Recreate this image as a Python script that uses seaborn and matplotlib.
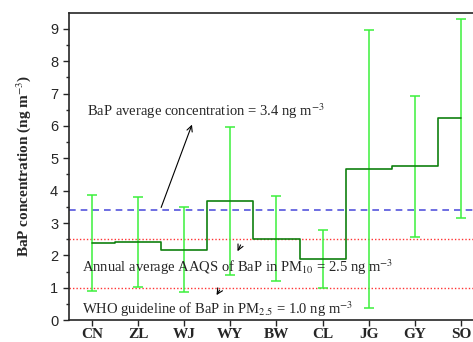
import numpy as np
import pandas as pd
import matplotlib
matplotlib.use("Agg")
import matplotlib.pyplot as plt
import seaborn as sns

sites = ["CN", "ZL", "WJ", "WY", "BW", "CL", "JG", "GY", "SO"]
bap_mean = [2.38, 2.40, 2.18, 3.68, 2.52, 1.88, 4.66, 4.75, 6.24]
bap_max = [3.86, 3.81, 3.48, 5.97, 3.83, 2.77, 8.95, 6.91, 9.31]
bap_min = [0.90, 1.01, 0.86, 1.39, 1.21, 0.99, 0.36, 2.58, 3.14]
avg_all = 3.4
aaqs_pm10 = 2.5
who_pm25 = 1.0

df = pd.DataFrame({"site": sites, "pos": np.arange(len(sites)),
                   "mean": bap_mean, "hi": bap_max, "lo": bap_min})

sns.set_style("ticks")
plt.rcParams["font.family"] = ["Liberation Serif", "DejaVu Serif"]
plt.rcParams["mathtext.fontset"] = "stix"

fig = plt.figure(figsize=(4.73, 3.42), dpi=100)
ax = fig.add_axes([0.145, 0.064, 0.855, 0.899])

# error bars (range)
ax.errorbar(df["pos"], df["mean"],
            yerr=[df["mean"] - df["lo"], df["hi"] - df["mean"]],
            fmt="none", ecolor="#3cf03c", elinewidth=1.1, capsize=3.5,
            capthick=1.1, zorder=2)

# step line through site means
sns.lineplot(data=df, x="pos", y="mean", drawstyle="steps-mid",
             color="#0f800f", linewidth=1.2, ax=ax, zorder=3)

ax.axhline(avg_all, color="#5555dd", linestyle=(0, (4, 3)), linewidth=1.2, zorder=1)
ax.axhline(aaqs_pm10, color="#ff3333", linestyle=(0, (1, 1.5)), linewidth=1.0, zorder=1)
ax.axhline(who_pm25, color="#ff3333", linestyle=(0, (1, 1.5)), linewidth=1.0, zorder=1)

ax.text(-0.1, 6.47, "BaP average concentration = 3.4 ng m$^{-3}$",
        fontsize=10.5, va="center", ha="left")
ax.annotate("", xy=(2.19, 6.12), xytext=(1.48, 3.4),
            arrowprops=dict(arrowstyle="->", color="black", lw=0.8))

ax.text(-0.22, 1.63, "Annual average AAQS of BaP in PM$_{10}$ = 2.5 ng m$^{-3}$",
        fontsize=10.5, va="center", ha="left")
ax.annotate("", xy=(3.13, 2.05), xytext=(3.25, 2.4),
            arrowprops=dict(arrowstyle="->", color="black", lw=0.8))

ax.text(-0.22, 0.35, "WHO guideline of BaP in PM$_{2.5}$ = 1.0 ng m$^{-3}$",
        fontsize=10.5, va="center", ha="left")
ax.annotate("", xy=(2.67, 0.7), xytext=(2.8, 1.0),
            arrowprops=dict(arrowstyle="->", color="black", lw=0.8))

ax.set_xlim(-0.505, 8.26)
ax.set_ylim(0, 9.5)
ax.set_xticks(df["pos"])
ax.set_xticklabels(sites, fontweight="bold", fontsize=11)
ax.set_yticks(range(0, 10))
ax.set_yticks(np.arange(0.5, 9.5, 1.0), minor=True)
for lab in ax.get_yticklabels():
    lab.set_fontfamily("Liberation Sans")
    lab.set_fontsize(10.5)
ax.tick_params(axis="both", direction="out", length=4, width=1)
ax.tick_params(axis="x", pad=2)
ax.tick_params(axis="y", which="minor", direction="out", length=2.5, width=1)
ax.set_xlabel("")
ax.set_ylabel("BaP concentration (ng m$^{-3}$)", fontweight="bold", fontsize=11,
              labelpad=12)
for s in ["left", "bottom", "top"]:
    ax.spines[s].set_linewidth(1.2)
    ax.spines[s].set_visible(True)
ax.spines["right"].set_visible(False)

fig.savefig("out.png", dpi=100)
